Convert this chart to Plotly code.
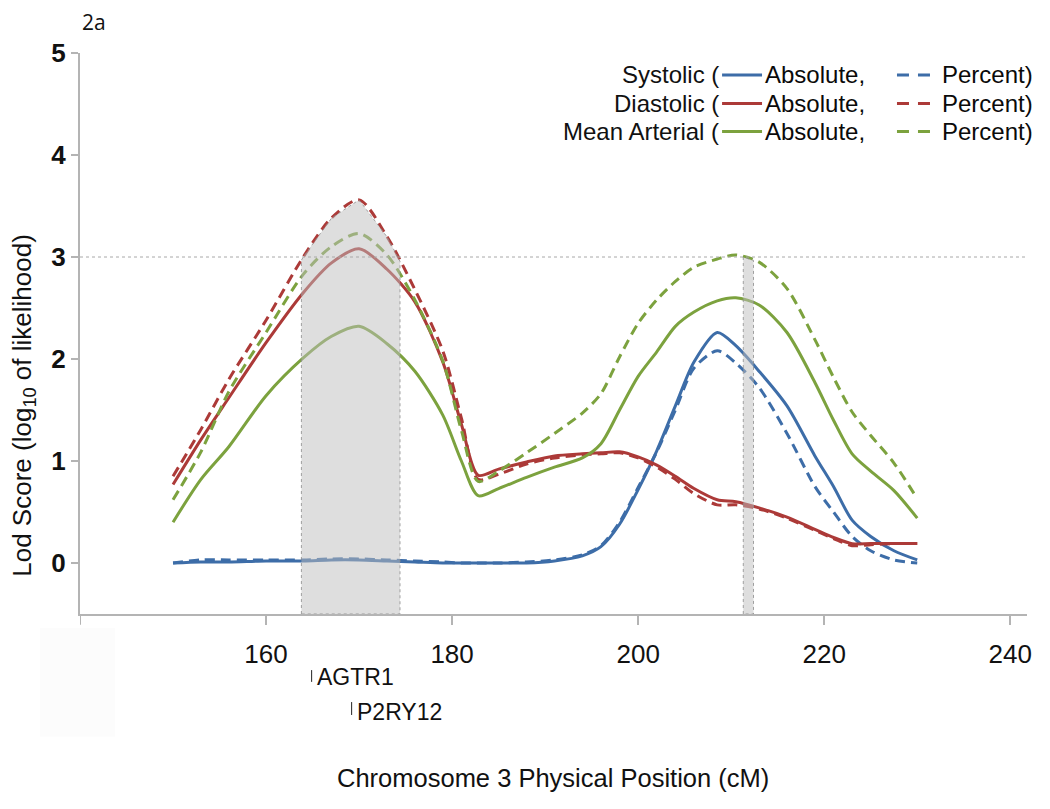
import numpy as np
import plotly.graph_objects as go

# ---------------- data ----------------
position = [150, 153, 156, 160, 164, 167, 170, 173, 176, 179, 181, 182.8, 185, 188, 191, 194,
            196, 198, 200, 202, 204, 206, 208.5, 210.5, 213, 216, 219, 221, 223, 225, 227.5, 230]

systolic_abs = [0.00, 0.01, 0.01, 0.02, 0.02, 0.03, 0.03, 0.02, 0.01, 0.00, 0.00, 0.00, 0.00, 0.00, 0.02, 0.07,
                0.16, 0.38, 0.72, 1.10, 1.54, 1.97, 2.26, 2.13, 1.88, 1.54, 1.05, 0.75, 0.42, 0.26, 0.12, 0.03]
systolic_pct = [0.00, 0.03, 0.03, 0.03, 0.03, 0.04, 0.04, 0.03, 0.02, 0.01, 0.00, 0.00, 0.00, 0.01, 0.03, 0.08,
                0.17, 0.40, 0.74, 1.09, 1.50, 1.91, 2.08, 1.96, 1.72, 1.27, 0.75, 0.50, 0.26, 0.12, 0.03, 0.00]
diastolic_abs = [0.77, 1.21, 1.62, 2.16, 2.65, 2.94, 3.08, 2.88, 2.56, 1.97, 1.36, 0.86, 0.92, 0.99, 1.05, 1.07,
                 1.08, 1.09, 1.04, 0.96, 0.85, 0.73, 0.62, 0.60, 0.54, 0.45, 0.33, 0.25, 0.19, 0.19, 0.19, 0.19]
diastolic_pct = [0.85, 1.31, 1.80, 2.38, 3.00, 3.38, 3.56, 3.20, 2.68, 2.08, 1.42, 0.82, 0.87, 0.97, 1.03, 1.06,
                 1.07, 1.08, 1.03, 0.94, 0.82, 0.68, 0.57, 0.57, 0.53, 0.44, 0.32, 0.24, 0.17, 0.18, 0.19, 0.19]
mean_abs = [0.40, 0.82, 1.14, 1.64, 2.01, 2.22, 2.32, 2.15, 1.88, 1.45, 1.00, 0.66, 0.73, 0.84, 0.94, 1.03,
            1.17, 1.50, 1.83, 2.07, 2.32, 2.46, 2.57, 2.60, 2.53, 2.26, 1.77, 1.40, 1.07, 0.90, 0.71, 0.44]
mean_pct = [0.62, 1.09, 1.68, 2.26, 2.83, 3.10, 3.23, 3.02, 2.58, 1.98, 1.30, 0.80, 0.90, 1.08, 1.27, 1.47,
            1.66, 2.02, 2.35, 2.58, 2.76, 2.90, 2.98, 3.02, 2.95, 2.69, 2.19, 1.82, 1.48, 1.25, 0.98, 0.63]

series_names = ["Systolic", "Diastolic", "Mean Arterial"]
series_abs = [systolic_abs, diastolic_abs, mean_abs]
series_pct = [systolic_pct, diastolic_pct, mean_pct]
colors = ["#3D6DA8", "#AC3A38", "#7CA23E"]

# support intervals (shaded) and the curve whose peak bounds them
interval_bounds = [(163.8, 174.4), (211.3, 212.4)]
interval_curve = [diastolic_pct, mean_pct]

gene_names = ["AGTR1", "P2RY12"]
gene_pos = [164.9, 169.2]

x_ticks = [160, 180, 200, 220, 240]
y_ticks = [0, 1, 2, 3, 4, 5]

FONT = "Liberation Sans, Arial, sans-serif"
AXIS_GRAY = "#b4b4b4"

fig = go.Figure()

for name, ya, yp, c in zip(series_names, series_abs, series_pct, colors):
    fig.add_trace(go.Scatter(x=position, y=yp, mode="lines", name=name + " Percent",
                             line=dict(color=c, width=3, dash="10px,6px", shape="spline", smoothing=0.8),
                             showlegend=False))
    fig.add_trace(go.Scatter(x=position, y=ya, mode="lines", name=name + " Absolute",
                             line=dict(color=c, width=3, shape="spline", smoothing=0.8),
                             showlegend=False))

# shaded intervals drawn over the lines (semi-transparent)
for (x0, x1), curve in zip(interval_bounds, interval_curve):
    xs = np.linspace(x0, x1, 40)
    tops = np.interp(xs, position, curve)
    px = np.concatenate([[x0], xs, [x1, x0]])
    py = np.concatenate([[-0.5], tops, [-0.5, -0.5]])
    fig.add_trace(go.Scatter(x=px, y=py, mode="lines", fill="toself",
                             fillcolor="rgba(190,190,190,0.5)",
                             line=dict(color="rgba(140,140,140,0.8)", width=1, dash="dot"),
                             showlegend=False, hoverinfo="skip"))

shapes = []
# dotted threshold line at LOD 3
shapes.append(dict(type="line", xref="x", yref="y", x0=140, x1=243.3, y0=3, y1=3,
                   line=dict(color="#a8a8a8", width=1, dash="dot")))
# tick at the axis origin
shapes.append(dict(type="line", xref="x", yref="paper", x0=140, x1=140, y0=0, y1=-0.019,
                   line=dict(color=AXIS_GRAY, width=2)))
# faint box at lower left
shapes.append(dict(type="rect", xref="paper", yref="paper", x0=-0.042, x1=0.037, y0=-0.219, y1=-0.025,
                   fillcolor="#fcfcfc", line=dict(width=0), layer="below"))

annotations = []
# custom legend
leg_rows = [0.961, 0.910, 0.860]
for name, c, yy in zip(series_names, colors, leg_rows):
    annotations.append(dict(text=name + " (", xref="paper", yref="paper", x=0.6770, y=yy,
                            xanchor="right", yanchor="middle", showarrow=False,
                            font=dict(family=FONT, size=24, color="#111111")))
    shapes.append(dict(type="line", xref="paper", yref="paper", x0=0.6780, x1=0.7202, y0=yy, y1=yy,
                       line=dict(color=c, width=3)))
    annotations.append(dict(text="Absolute,", xref="paper", yref="paper", x=0.7215, y=yy,
                            xanchor="left", yanchor="middle", showarrow=False,
                            font=dict(family=FONT, size=24, color="#0a0a0a")))
    shapes.append(dict(type="line", xref="paper", yref="paper", x0=0.8627, x1=0.8976, y0=yy, y1=yy,
                       line=dict(color=c, width=3, dash="12px,9px")))
    annotations.append(dict(text="Percent)", xref="paper", yref="paper", x=0.9085, y=yy,
                            xanchor="left", yanchor="middle", showarrow=False,
                            font=dict(family=FONT, size=24, color="#0a0a0a")))

# gene markers below the axis
gene_rows = [(-0.100, -0.121, -0.112), (-0.157, -0.180, -0.175)]
for g, gx, (b0, b1, ty) in zip(gene_names, gene_pos, gene_rows):
    shapes.append(dict(type="line", xref="x", yref="paper", x0=gx, x1=gx, y0=b0, y1=b1,
                       line=dict(color="#222222", width=1)))
    annotations.append(dict(text=g, xref="x", yref="paper", x=gx, y=ty, xanchor="left", yanchor="middle",
                            xshift=3, showarrow=False, font=dict(family=FONT, size=23, color="#111111")))

# axis titles and panel label
annotations.append(dict(text="Chromosome 3 Physical Position (cM)", xref="paper", yref="paper",
                        x=0.4995, y=-0.292, xanchor="center", yanchor="middle", showarrow=False,
                        font=dict(family=FONT, size=25.5, color="#111111")))
annotations.append(dict(text="Lod Score (log<sub>10</sub> of likelihood)", xref="paper", yref="paper",
                        x=-0.0605, y=0.3725, xanchor="center", yanchor="middle", textangle=-90,
                        showarrow=False, borderpad=0,
                        font=dict(family=FONT, size=26, color="#111111")))
annotations.append(dict(text="2a", xref="paper", yref="paper", x=0.0145, y=1.056,
                        xanchor="center", yanchor="middle", showarrow=False, borderpad=0,
                        font=dict(family="Open Sans, sans-serif", size=21, color="#111111")))

fig.update_layout(
    width=1042, height=801,
    margin=dict(l=72, r=23, t=45, b=195),
    paper_bgcolor="white", plot_bgcolor="white",
    showlegend=False,
    shapes=shapes, annotations=annotations,
    xaxis=dict(range=[140, 241.8], tickvals=x_ticks,
               showgrid=False, zeroline=False, showline=True, linecolor=AXIS_GRAY, linewidth=2,
               ticks="outside", ticklen=9, tickwidth=2, tickcolor=AXIS_GRAY,
               ticklabelstandoff=7,
               tickfont=dict(family=FONT, size=26, color="#111111")),
    yaxis=dict(range=[-0.5, 5], tickvals=y_ticks, showgrid=False, zeroline=False,
               showline=True, linecolor=AXIS_GRAY, linewidth=2,
               ticks="outside", ticklen=7, tickwidth=2, tickcolor=AXIS_GRAY,
               tickfont=dict(family=FONT, size=26, color="#111111", weight="bold")),
)

fig.write_html("out.html")
